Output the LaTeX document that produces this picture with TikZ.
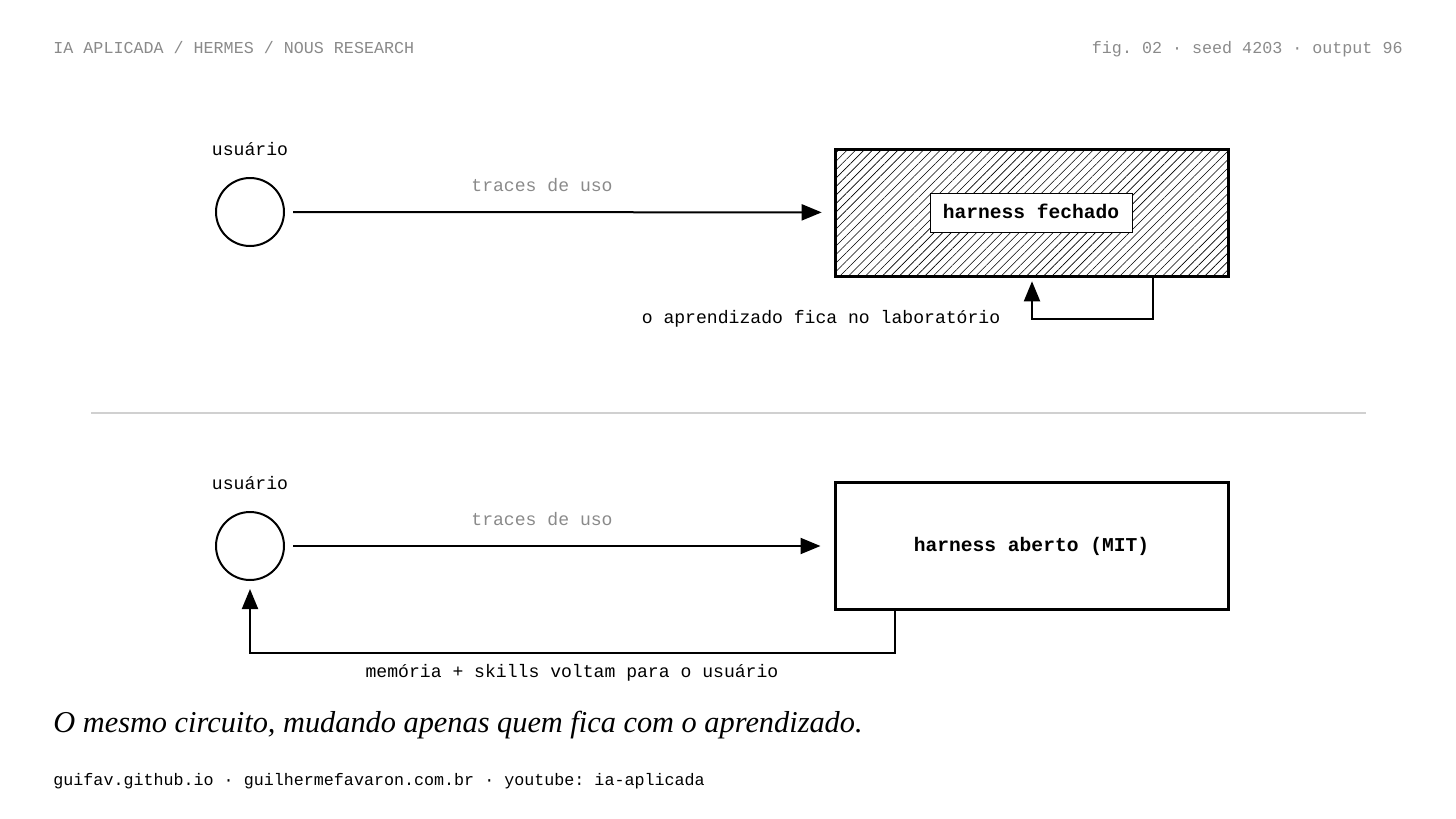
\documentclass[tikz,border=0pt]{standalone}
\usepackage{fontspec}
\setmainfont{Liberation Serif}
\setmonofont{Liberation Mono}
\usetikzlibrary{arrows.meta,patterns.meta}
\definecolor{mylabelgray}{HTML}{8a8a8a}
\definecolor{myrulegray}{HTML}{d0d0d0}

\tikzset{
  actor/.style={draw, circle, line width=1pt, minimum size=34pt, inner sep=0pt},
  harness/.style={draw, rectangle, line width=1.5pt, minimum width=196.5pt, minimum height=63.5pt},
  flow/.style={line width=1pt, -{Triangle[length=10pt,width=8pt]}},
  monotext/.style={font=\fontsize{9.05pt}{9pt}\ttfamily},
}

\begin{document}
\begin{tikzpicture}[x=0.5pt, y=-0.5pt]%
\useasboundingbox (0,0) rectangle (1456,819);%
% header
\node[anchor=base west, text=mylabelgray, font=\fontsize{8.35pt}{8.35pt}\ttfamily, inner sep=0pt] (head) at (53,54) {IA APLICADA / HERMES / NOUS RESEARCH};%
\node[anchor=base east, text=mylabelgray, font=\fontsize{8.35pt}{8.35pt}\ttfamily, inner sep=0pt] (figno) at (1403,54) {fig. 02 · seed 4203 · output 96};%
% closed harness
\node[actor] (user1) at (250,212) {};%
\node[monotext] (user1lbl) at (250,149) {usuário};%
\node[harness, pattern={Lines[angle=45, distance=3pt, line width=0.3pt]}] (closed) at (1031.5,212.5) {};%
\node[draw, fill=white, line width=0.5pt, minimum width=101pt, minimum height=19.5pt, font=\fontsize{9.8pt}{9.8pt}\ttfamily\bfseries] (closedlbl) at (1031,212.5) {\raisebox{1pt}{harness fechado}};%
\draw[flow, shorten <=4pt, shorten >=6.5pt] (user1) -- (closed);%
\node[monotext, text=mylabelgray] (trace1) at (542,185) {traces de uso};%
\coordinate (fbA) at (1153,319);%
\coordinate (fbB) at (1032,319);%
\draw[flow, shorten >=2.5pt] (closed.south -| fbA) -- (fbA) -- (fbB) -- (closed.south -| fbB);%
\node[monotext] (fblbl) at (821,319) {o aprendizado fica no laboratório};%
% separator
\draw[myrulegray, line width=1pt] (91,413) -- (1366,413);%
% open harness
\node[actor] (user2) at (250,546) {};%
\node[monotext] (user2lbl) at (250,483) {usuário};%
\node[harness, font=\fontsize{9.8pt}{9.8pt}\ttfamily\bfseries] (open) at (1031.5,546) {harness aberto (MIT)};%
\draw[flow, shorten <=4pt, shorten >=6.5pt] (user2) -- (open);%
\node[monotext, text=mylabelgray] (trace2) at (542,519) {traces de uso};%
\coordinate (fbC) at (895,653);%
\coordinate (fbD) at (250,653);%
\draw[flow, shorten >=4pt] (open.south -| fbC) -- (fbC) -- (fbD) -- (user2.south);%
\node[monotext] (backlbl) at (572,673) {memória + skills voltam para o usuário};%
% caption and footer
\node[anchor=west, inner sep=0pt, font=\fontsize{15.17pt}{15pt}\itshape] (caption) at (53,725) {O mesmo circuito, mudando apenas quem fica com o aprendizado.};%
\node[anchor=west, inner sep=0pt, font=\fontsize{8.35pt}{8.35pt}\ttfamily] (footer) at (53,781) {guifav.github.io · guilhermefavaron.com.br · youtube: ia-aplicada};%
\end{tikzpicture}
\end{document}
